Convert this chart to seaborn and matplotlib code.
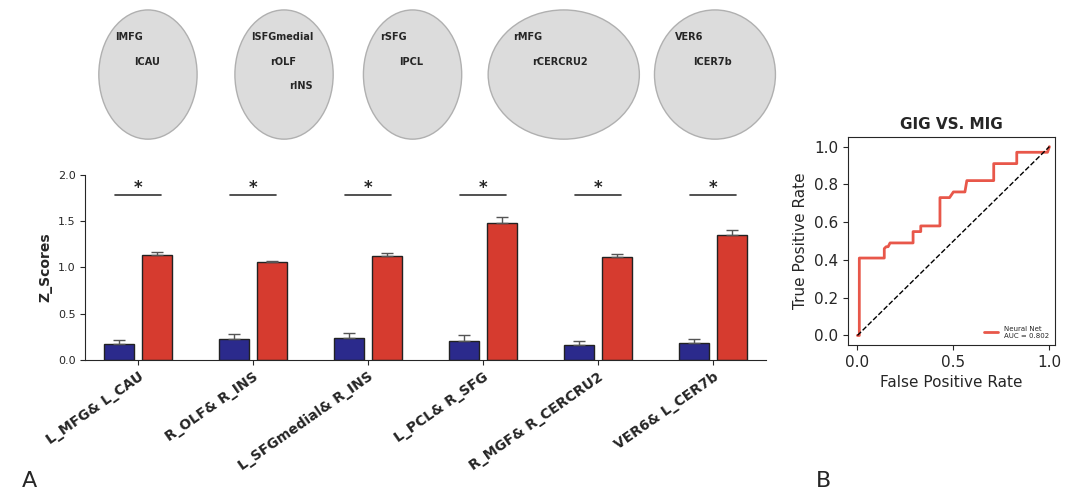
import numpy as np
import pandas as pd
import matplotlib.pyplot as plt
import seaborn as sns
from matplotlib.patches import Ellipse

# Data
pairs = ['L_MFG& L_CAU', 'R_OLF& R_INS', 'L_SFGmedial& R_INS', 'L_PCL& R_SFG', 'R_MGF& R_CERCRU2', 'VER6& L_CER7b']
blue_vals = [0.17, 0.23, 0.24, 0.20, 0.16, 0.18]
blue_err = [0.04, 0.05, 0.05, 0.07, 0.04, 0.05]
red_vals = [1.13, 1.06, 1.12, 1.48, 1.11, 1.35]
red_err = [0.04, 0.005, 0.04, 0.06, 0.04, 0.05]
fpr = [0, 0.01, 0.01, 0.14, 0.14, 0.15, 0.16, 0.17, 0.29, 0.29, 0.33, 0.33, 0.43, 0.43, 0.48, 0.50, 0.56, 0.57, 0.71, 0.71, 0.83, 0.83, 0.99, 1.0]
tpr = [0, 0.0, 0.41, 0.41, 0.46, 0.47, 0.47, 0.49, 0.49, 0.55, 0.55, 0.58, 0.58, 0.73, 0.73, 0.76, 0.76, 0.82, 0.82, 0.91, 0.91, 0.97, 0.97, 1.0]
brain_labels = [['lMFG', 'lCAU'], ['lSFGmedial', 'rOLF', 'rINS'], ['rSFG', 'lPCL'], ['rMFG', 'rCERCRU2'], ['VER6', 'lCER7b']]

sns.set_style('ticks')
plt.rcParams['font.family'] = ['DejaVu Sans']
fig = plt.figure(figsize=(10.8, 4.97), dpi=100)

# brain placeholders
top = fig.add_axes([0.06, 0.70, 0.70, 0.30])
top.set_xlim(0, 10)
top.set_ylim(0, 3)
top.axis('off')
centers = [1.1, 2.9, 4.6, 6.6, 8.6]
widths = [1.3, 1.3, 1.3, 2.0, 1.6]
for c, w, labs in zip(centers, widths, brain_labels):
    top.add_patch(Ellipse((c, 1.5), w, 2.6, color='#dcdcdc', ec='#b0b0b0'))
    for i, lab in enumerate(labs):
        top.text(c - w / 3 + i * 0.25, 2.2 - i * 0.5, lab, fontsize=7, fontweight='bold')

# bar chart
ax = fig.add_axes([0.079, 0.276, 0.63, 0.372])
df = pd.DataFrame({'pair': pairs * 2, 'val': blue_vals + red_vals,
                   'grp': ['a'] * 6 + ['b'] * 6})
sns.barplot(data=df, x='pair', y='val', hue='grp', palette=['#2b2a8c', '#d63b2f'], saturation=1,
            edgecolor='#222222', linewidth=1, ax=ax, legend=False, width=0.66, gap=0.2)
errs = blue_err + red_err
for p, v, e in zip(ax.patches, blue_vals + red_vals, errs):
    xc = p.get_x() + p.get_width() / 2
    ax.errorbar(xc, v, yerr=[[0], [e]], color='#555555', capsize=4, lw=1)
for i in range(6):
    ax.plot([i - 0.2, i + 0.2], [1.78, 1.78], color='#333333', lw=1.2)
    ax.text(i, 1.80, '*', ha='center', fontsize=12, fontweight='bold')
ax.set_xlim(-0.46, 5.46)
ax.set_ylim(0, 2.0)
ax.set_yticks([0, 0.5, 1.0, 1.5, 2.0])
ax.set_yticklabels(['0.0', '0.5', '1.0', '1.5', '2.0'], fontsize=8)
ax.set_xlabel('')
ax.set_ylabel('Z_Scores', fontweight='bold', fontsize=10)
ax.set_xticks(range(6))
ax.set_xticklabels(pairs, rotation=35, ha='right', rotation_mode='anchor', fontweight='bold', fontsize=10)
sns.despine(ax=ax)

# ROC
ax2 = fig.add_axes([0.785, 0.306, 0.192, 0.418])
sns.lineplot(x=fpr, y=tpr, color='#e8574a', lw=2, ax=ax2, label='Neural Net\nAUC = 0.802',
             sort=False, estimator=None)
ax2.plot([0, 1], [0, 1], 'k--', lw=1)
ax2.set_xlim(-0.05, 1.03)
ax2.set_ylim(-0.05, 1.05)
ax2.set_xticks([0, 0.5, 1.0])
ax2.set_yticks([0, 0.2, 0.4, 0.6, 0.8, 1.0])
ax2.tick_params(labelsize=11)
ax2.set_xlabel('False Positive Rate', fontsize=11)
ax2.set_ylabel('True Positive Rate', fontsize=11)
ax2.set_title('GIG VS. MIG', fontweight='bold', fontsize=11)
ax2.legend(loc='lower right', fontsize=5, frameon=False)

fig.text(0.02, 0.02, 'A', fontsize=16)
fig.text(0.755, 0.02, 'B', fontsize=16)
fig.savefig('out.png', dpi=100)
